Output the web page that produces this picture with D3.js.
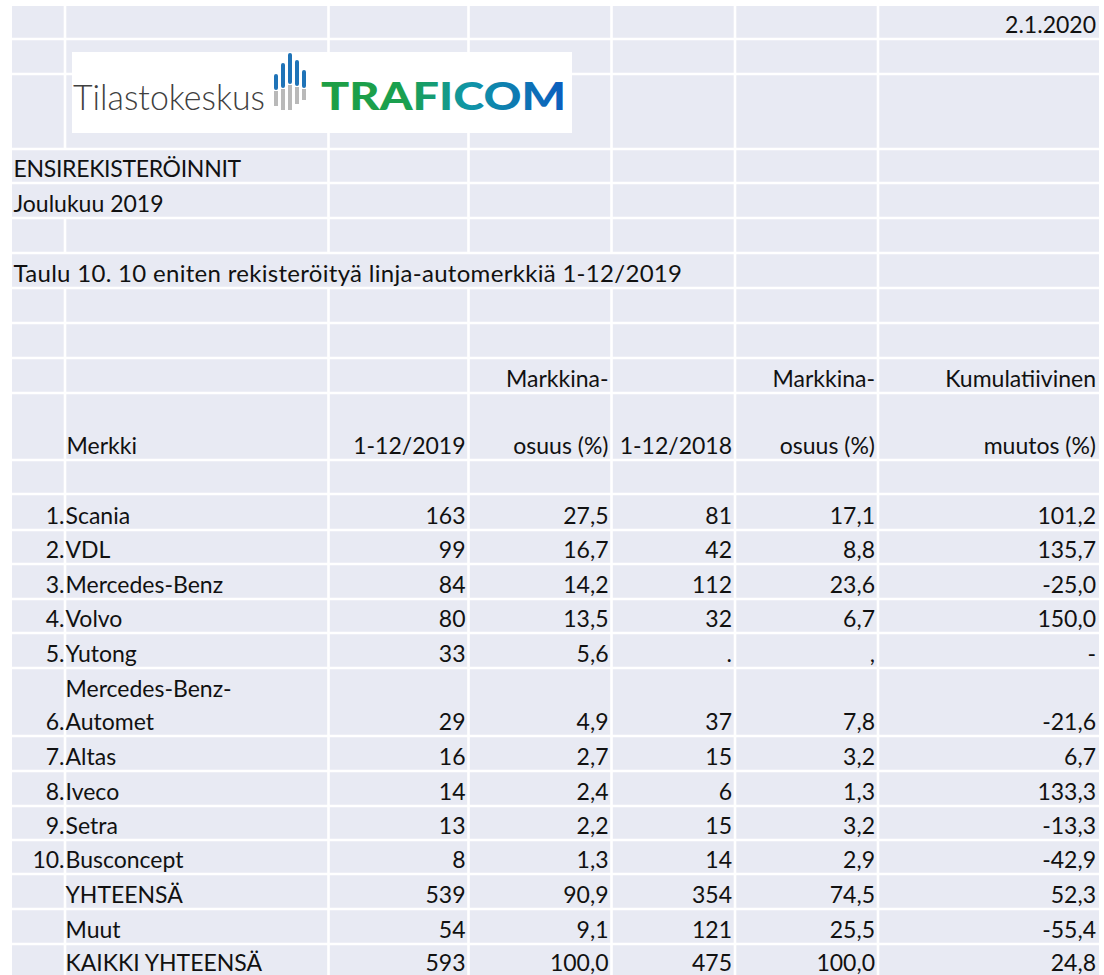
<!DOCTYPE html>
<html>
<head>
<meta charset="utf-8">
<script src="https://cdn.jsdelivr.net/npm/d3@7"></script>
<style>
	body { margin: 0; background: #fff; }
	svg text { font-family: Lato, "Open Sans", sans-serif; fill: #111; }
</style>
</head>
<body>
<div id="chart"></div>
<script>
// table data
var ranks = ["1.", "2.", "3.", "4.", "5.", "6.", "7.", "8.", "9.", "10.", "", "", ""];
var brands = ["Scania", "VDL", "Mercedes-Benz", "Volvo", "Yutong", "Mercedes-Benz-Automet", "Altas", "Iveco", "Setra", "Busconcept", "YHTEENSÄ", "Muut", "KAIKKI YHTEENSÄ"];
var reg2019 = [163, 99, 84, 80, 33, 29, 16, 14, 13, 8, 539, 54, 593];
var share2019 = [27.5, 16.7, 14.2, 13.5, 5.6, 4.9, 2.7, 2.4, 2.2, 1.3, 90.9, 9.1, 100.0];
var reg2018 = [81, 42, 112, 32, null, 37, 15, 6, 15, 14, 354, 121, 475];
var share2018 = [17.1, 8.8, 23.6, 6.7, null, 7.8, 3.2, 1.3, 3.2, 2.9, 74.5, 25.5, 100.0];
var change = [101.2, 135.7, -25.0, 150.0, null, -21.6, 6.7, 133.3, -13.3, -42.9, 52.3, -55.4, 24.8];

var headTop = ["", "", "", "Markkina-", "", "Markkina-", "Kumulatiivinen"];
var headBottom = ["", "Merkki", "1-12/2019", "osuus (%)", "1-12/2018", "osuus (%)", "muutos (%)"];

var dateText = "2.1.2020";
var title1 = "ENSIREKISTERÖINNIT";
var title2 = "Joulukuu 2019";
var caption = "Taulu 10. 10 eniten rekisteröityä linja-automerkkiä 1-12/2019";

// layout
var W = 1104, H = 975;
var colX = [12, 65, 328.5, 468.5, 611.5, 735, 878, 1099];
var headHeights = [33, 35, 75, 34, 35, 35, 35, 35, 35, 35, 67, 34];
var dataHeights = [36, 34, 35, 34, 35, 68, 35, 35, 34, 34, 35, 35, 33];
var rowH = headHeights.concat(dataHeights);
var rowY = [6].concat(Array.from(d3.cumsum(rowH), function(d) { return d + 6; }));
var firstData = headHeights.length;

// gridlines covered by overflowing text: row -> boundary indexes
var hidden = { 3: [1], 4: [1], 6: [1, 2, 3, 4] };

var fmt1 = function(v, blank) {
	return v == null ? blank : d3.format(".1f")(v).replace(".", ",").replace("−", "-");
};
var fmt0 = function(v, blank) { return v == null ? blank : String(v); };

var svg = d3.select("#chart").append("svg")
	.attr("width", W)
	.attr("height", H);

// cells background, extends past the bottom edge
svg.append("rect")
	.attr("x", colX[0]).attr("y", rowY[0])
	.attr("width", colX[colX.length - 1] - colX[0])
	.attr("height", H - rowY[0])
	.attr("fill", "#e8eaf3");

var lines = svg.append("g").attr("stroke", "#fff").attr("stroke-width", 2.6);

lines.selectAll(".h")
	.data(rowY.slice(1, -1))
	.enter().append("line")
	.attr("x1", colX[0]).attr("x2", colX[colX.length - 1])
	.attr("y1", function(d) { return d; }).attr("y2", function(d) { return d; });

var vsegs = [];
for (var r = 0; r < rowH.length; r++) {
	for (var c = 1; c < colX.length - 1; c++) {
		if (hidden[r] && hidden[r].indexOf(c) >= 0) continue;
		vsegs.push({ x: colX[c], y1: rowY[r], y2: r == rowH.length - 1 ? H : rowY[r + 1] });
	}
}

lines.selectAll(".v")
	.data(vsegs)
	.enter().append("line")
	.attr("x1", function(d) { return d.x; }).attr("x2", function(d) { return d.x; })
	.attr("y1", function(d) { return d.y1; }).attr("y2", function(d) { return d.y2; });

// text helper, bottom aligned like the spreadsheet
var textG = svg.append("g").attr("font-size", 23);

function cell(row, col, str, align, line, pad) {
	var base = rowY[row + 1] - 6.5 - (line || 0) * 33;
	var right = align == "right";
	if (pad == null) pad = right ? 3 : 1.5;
	return textG.append("text")
		.attr("x", right ? colX[col + 1] - pad : colX[col] + pad)
		.attr("y", base)
		.attr("text-anchor", right ? "end" : "start")
		.text(str);
}

cell(0, 6, dateText, "right");
cell(3, 0, title1, "left").attr("letter-spacing", -0.3);
cell(4, 0, title2, "left");
cell(6, 0, caption, "left").attr("font-size", 24).attr("letter-spacing", 0.3);

headTop.forEach(function(t, i) { if (t) cell(9, i, t, i == 1 ? "left" : "right"); });
headBottom.forEach(function(t, i) { if (t) cell(10, i, t, i == 1 ? "left" : "right"); });

brands.forEach(function(b, i) {
	var r = firstData + i;
	cell(r, 0, ranks[i], "right", 0, 0.5);

	if (rowH[r] > 50) {
		var cut = b.lastIndexOf("-") + 1;
		cell(r, 1, b.slice(0, cut), "left", 1, 0.5);
		cell(r, 1, b.slice(cut), "left", 0, 0.5);
	} else {
		cell(r, 1, b, "left", 0, 0.5);
	}

	cell(r, 2, fmt0(reg2019[i], "."), "right");
	cell(r, 3, fmt1(share2019[i], ","), "right");
	cell(r, 4, fmt0(reg2018[i], "."), "right");
	cell(r, 5, fmt1(share2018[i], ","), "right");
	cell(r, 6, fmt1(change[i], "-"), "right");
});

// logo block
var logo = svg.append("g");

logo.append("rect")
	.attr("x", 72).attr("y", 52)
	.attr("width", 500).attr("height", 81)
	.attr("fill", "#fff");

logo.append("text")
	.attr("x", 73).attr("y", 110)
	.attr("font-size", 35)
	.attr("font-weight", 300)
	.attr("textLength", 192)
	.attr("lengthAdjust", "spacingAndGlyphs")
	.style("fill", "#404040")
	.text("Tilastokeskus");

var bars = [
	{ x: 274, top: 74, mid: 90, bot: 106 },
	{ x: 281, top: 63, mid: 88, bot: 110 },
	{ x: 288, top: 53, mid: 84, bot: 110 },
	{ x: 295, top: 60, mid: 86, bot: 104 },
	{ x: 302, top: 70, mid: 88, bot: 100 }
];

logo.selectAll(".bt").data(bars).enter().append("rect")
	.attr("x", function(d) { return d.x; }).attr("y", function(d) { return d.top; })
	.attr("width", 4).attr("height", function(d) { return d.mid - d.top; })
	.attr("rx", 2)
	.attr("fill", "#1f73b7");

logo.selectAll(".bb").data(bars).enter().append("rect")
	.attr("x", function(d) { return d.x; }).attr("y", function(d) { return d.mid + 1; })
	.attr("width", 4).attr("height", function(d) { return d.bot - d.mid - 1; })
	.attr("fill", "#b9b9b9");

var grad = svg.append("defs").append("linearGradient")
	.attr("id", "trafi").attr("x1", "0%").attr("x2", "100%");
grad.append("stop").attr("offset", "0%").attr("stop-color", "#1e9e44");
grad.append("stop").attr("offset", "35%").attr("stop-color", "#1aa050");
grad.append("stop").attr("offset", "60%").attr("stop-color", "#1096a6");
grad.append("stop").attr("offset", "100%").attr("stop-color", "#0b5cbf");

logo.append("text")
	.attr("x", 321).attr("y", 110)
	.attr("font-size", 38)
	.attr("font-weight", 900)
	.attr("textLength", 245)
	.attr("lengthAdjust", "spacingAndGlyphs")
	.style("fill", "url(#trafi)")
	.text("TRAFICOM");
</script>
</body>
</html>
